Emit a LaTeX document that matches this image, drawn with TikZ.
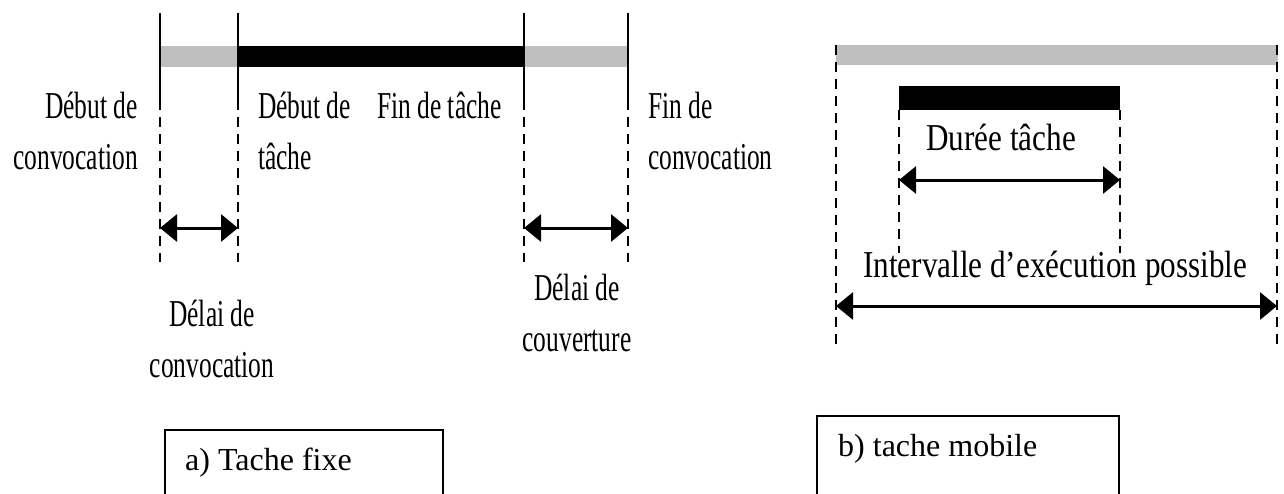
\documentclass[tikz,border=0pt]{standalone}
\usepackage{fontspec}
\setmainfont{Liberation Serif}
\newfontfamily\condL[FakeStretch=0.67]{Liberation Serif}
\newfontfamily\condR[FakeStretch=0.82]{Liberation Serif}
\usetikzlibrary{arrows.meta}
\definecolor{bargray}{HTML}{BFBFBF}
\begin{document}
\begin{tikzpicture}[x=1pt,y=-1pt,
  guide/.style={line width=1.6pt, dash pattern=on 10pt off 7pt},
  guidesolid/.style={line width=1.6pt},
  span/.style={line width=3pt, {Triangle[length=17pt,width=27pt]}-{Triangle[length=17pt,width=27pt]}},
  lblL/.style={inner sep=0pt, font=\condL\fontsize{38}{51}\selectfont},
  lblR/.style={inner sep=0pt, font=\condR\fontsize{38}{51}\selectfont},
  caption/.style={inner sep=0pt, font=\fontsize{32}{38}\selectfont, anchor=base west},
  framebox/.style={line width=2pt}]
\useasboundingbox (0,0) rectangle (1284,493);

% ---------- a) fixed task ----------
\fill[bargray] (160,46) rectangle (238,67);
\fill[black] (238,46) rectangle (524,67);
\fill[bargray] (524,46) rectangle (628,67);

\coordinate (Atop) at (160,13); \coordinate (Amid) at (160,100); \coordinate (Abot) at (160,262); \coordinate (Aarr) at (160,228);
\coordinate (Btop) at (238,13); \coordinate (Bmid) at (238,100); \coordinate (Bbot) at (238,262); \coordinate (Barr) at (238,228);
\coordinate (Ctop) at (524,13); \coordinate (Cmid) at (524,100); \coordinate (Cbot) at (524,262); \coordinate (Carr) at (524,228);
\coordinate (Dtop) at (628,13); \coordinate (Dmid) at (628,100); \coordinate (Dbot) at (628,262); \coordinate (Darr) at (628,228);
\foreach \n in {A,B,C,D}{
  \draw[guidesolid] (\n top) -- (\n mid);
  \draw[guide] (\n mid) -- (\n bot);
}
\draw[span] (Aarr) -- (Barr);
\draw[span] (Carr) -- (Darr);

% multi-line nodes: the base anchor is the baseline of the last line
\node[lblL, anchor=base east, align=right] (dc) at (138,169) {Début de\\convocation};
\node[lblL, anchor=base west, align=left] (dt) at (258,169) {Début de\\tâche};
\node[lblL, anchor=base west] (ft) at (377,118) {Fin de tâche};
\node[lblL, anchor=base west, align=left] (fc) at (648,169) {Fin de\\convocation};
\node[lblL, anchor=base, align=center] (dlc) at (212,377) {Délai de\\convocation};
\node[lblL, anchor=base, align=center] (dlv) at (577,351) {Délai de\\couverture};

\draw[framebox] (165,500) -- (165,430) -- (443,430) -- (443,500);
\node[caption] (capa) at (185,470) {a) Tache fixe};

% ---------- b) mobile task ----------
\fill[bargray] (836,45) rectangle (1278,65);
\fill[black] (899,86) rectangle (1120,110);

\coordinate (Etop) at (836,45);   \coordinate (Ebot) at (836,347);  \coordinate (Earr) at (836,306);
\coordinate (Htop) at (1277,45);  \coordinate (Hbot) at (1277,347); \coordinate (Harr) at (1277,306);
\coordinate (Ftop) at (899,110);  \coordinate (Fbot) at (899,253);  \coordinate (Farr) at (899,180);
\coordinate (Gtop) at (1120,110); \coordinate (Gbot) at (1120,253); \coordinate (Garr) at (1120,180);
\foreach \n in {E,H,F,G}{ \draw[guide] (\n top) -- (\n bot); }

\draw[span] (Farr) -- (Garr);
\draw[span] (Earr) -- (Harr);

\node[lblR, anchor=base west] (dur) at (926,150) {Durée tâche};
\node[lblR, anchor=base west] (iep) at (863,277) {Intervalle d’exécution possible};

\draw[framebox] (817,500) -- (817,416) -- (1119,416) -- (1119,500);
\node[caption] (capb) at (838,456) {b) tache mobile};
\end{tikzpicture}
\end{document}
